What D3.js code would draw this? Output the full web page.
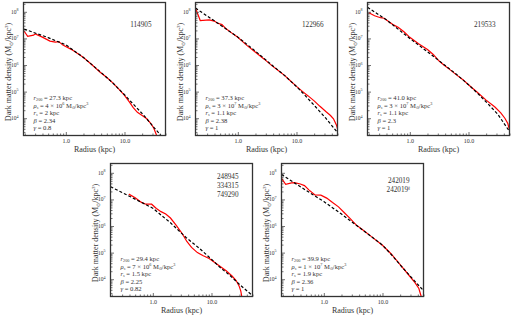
<!DOCTYPE html>
<html>
<head>
<meta charset="utf-8">
<script src="https://cdn.jsdelivr.net/npm/d3@7"></script>
<style>
body { margin: 0; background: #fff; }
svg { display: block; }
text { font-family: "Liberation Serif", serif; fill: #333; }
</style>
</head>
<body>
<div id="chart"></div>
<script>
// halo ids shown top right of each panel
const haloIds = [["114905"], ["122966"], ["219533"], ["248945", "334315", "749290"], ["242019", "242019"]];
const haloPrime = [false, false, false, false, true];

// fit parameters per panel
const r200 = ["27.3", "37.3", "41.0", "29.4", "39.9"];
const rhoMant = ["4", "3", "3", "7", "1"];
const rhoExp = ["6", "7", "7", "6", "7"];
const rScale = ["2", "1.1", "1.1", "1.5", "1.9"];
const betas = ["2.34", "2.38", "2.3", "2.25", "2.36"];
const gammas = ["0.8", "1", "1", "0.82", "1"];

// dashed fit profile (kpc, Msun/kpc^3)
const fitR = [
  [0.195, 0.50, 1.0, 2.0, 3.8, 6.3, 10, 14.1, 20.9, 31.6, 43.7],
  [0.19, 0.398, 1.0, 2.0, 3.8, 6.31, 10, 14.1, 20.9, 31.6, 50.1],
  [0.19, 0.398, 1.0, 2.0, 3.8, 6.31, 10, 14.1, 20.9, 31.6, 50.1],
  [0.19, 0.398, 1.0, 2.0, 3.72, 6.31, 10, 14.1, 20.9, 31.6, 50.1],
  [0.19, 0.398, 1.0, 2.0, 3.77, 6.31, 10, 14.1, 20.7, 31.6, 50.1]
];
const fitRho = [
  [2.24e7, 1.07e7, 5.75e6, 1.91e6, 5.75e5, 2.14e5, 7.6e4, 3.39e4, 1.35e4, 4.57e3, 2.0e3],
  [1.38e8, 4.57e7, 1.12e7, 3.31e6, 1.0e6, 3.98e5, 1.55e5, 7.08e4, 2.75e4, 1.0e4, 2.88e3],
  [1.48e8, 5.0e7, 1.0e7, 3.16e6, 1.05e6, 4.37e5, 1.82e5, 8.9e4, 3.72e4, 1.41e4, 3.16e3],
  [3.0e7, 1.32e7, 4.68e6, 1.32e6, 3.63e5, 1.41e5, 5.6e4, 2.75e4, 1.35e4, 5.75e3, 2.4e3],
  [8.7e7, 3.0e7, 8.3e6, 2.82e6, 9.8e5, 4.17e5, 1.91e5, 8.5e4, 3.16e4, 1.12e4, 3.7e3]
];

// red simulated profile
const simR = [
  [0.195, 0.224, 0.282, 0.302, 0.398, 0.537, 0.661, 0.759, 0.891, 1.26, 2.0, 2.82, 3.8, 5.01, 6.31, 7.94, 10, 12.0, 14.1, 16.6, 20.0, 24.0, 28.2, 31.6, 35.5, 37.2],
  [0.19, 0.229, 0.324, 0.398, 0.447, 0.537, 0.631, 0.794, 1.0, 1.41, 2.0, 2.82, 3.8, 5.01, 6.31, 7.94, 10, 12.6, 15.8, 20, 25.1, 31.6, 38, 42.7, 47.9, 50.1],
  [0.2, 0.251, 0.316, 0.363, 0.447, 0.537, 0.631, 0.794, 1.0, 1.41, 2.0, 2.51, 3.16, 3.8, 5.01, 6.31, 7.94, 10, 14.1, 20, 28.2, 35.5, 41.7, 46.8, 50.1],
  [0.389, 0.501, 0.631, 0.759, 0.955, 1.15, 1.38, 1.66, 2.0, 2.51, 3.16, 3.8, 4.57, 5.75, 7.24, 9.12, 11.2, 14.1, 17.8, 22.4, 26.3, 29.5, 31.6, 33.1],
  [0.19, 0.224, 0.282, 0.316, 0.398, 0.468, 0.562, 0.708, 0.891, 1.12, 1.41, 1.78, 2.24, 2.82, 3.55, 4.47, 6.31, 10, 14.1, 20, 28.2, 35.5, 41.7, 45.7]
];
const simRho = [
  [1.86e7, 1.2e7, 1.32e7, 1.48e7, 1.12e7, 7.9e6, 7.2e6, 7.6e6, 5.6e6, 3.8e6, 1.9e6, 1.0e6, 5.5e5, 3.4e5, 2.14e5, 1.26e5, 7.2e4, 4.2e4, 2.5e4, 1.66e4, 1.26e4, 9.5e3, 6.3e3, 4.2e3, 2.2e3, 1.6e3],
  [1.38e8, 4.68e7, 5.0e7, 4.47e7, 3.8e7, 3.31e7, 2.29e7, 1.58e7, 1.1e7, 5.6e6, 3.0e6, 1.66e6, 9.5e5, 6.0e5, 4.0e5, 2.5e5, 1.58e5, 1.02e5, 6.9e4, 4.5e4, 2.8e4, 1.78e4, 1.26e4, 9.5e3, 5.6e3, 4.0e3],
  [9.3e7, 7.1e7, 6.0e7, 5.75e7, 4.17e7, 3.16e7, 2.63e7, 1.78e7, 1.1e7, 6.3e6, 3.8e6, 2.5e6, 1.41e6, 1.0e6, 6.3e5, 4.17e5, 2.88e5, 1.82e5, 9.5e4, 4.8e4, 2.63e4, 1.58e4, 1.0e4, 6.3e3, 3.55e3],
  [1.58e7, 1.15e7, 7.9e6, 6.6e6, 6.6e6, 4.57e6, 3.47e6, 2.82e6, 2.0e6, 1.05e6, 5.25e5, 2.63e5, 1.58e5, 1.0e5, 7.6e4, 6.0e4, 4.37e4, 3.0e4, 2.09e4, 1.32e4, 8.9e3, 5.6e3, 3.55e3, 2.0e3],
  [6.2e7, 3.7e7, 4.17e7, 4.27e7, 3.8e7, 3.3e7, 2.24e7, 1.48e7, 1.45e7, 1.12e7, 7.6e6, 5.25e6, 3.16e6, 1.9e6, 1.1e6, 7.6e5, 4.17e5, 1.9e5, 8.9e4, 3.55e4, 1.41e4, 7.6e3, 4.47e3, 2.24e3]
];

// axis ranges and ticks
const xDomain = [0.19, 50];
const yDomain = [2240, 2.24e8];
const xTickVals = [1, 10];
const xTickLabels = ["1.0", "10.0"];
const yTickExps = [4, 5, 6, 7, 8];

const W = 516, H = 318;
const pw = 142, ph = 133;
// top-left corner of each panel box
const origins = [[23.5, 2.5], [195.5, 2.5], [367.5, 2.5], [110.5, 163.5], [281.5, 163.5]];

const svg = d3.select("#chart").append("svg")
    .attr("width", W)
    .attr("height", H);

const x = d3.scaleLog().domain(xDomain).range([0, pw]);
const y = d3.scaleLog().domain(yDomain).range([ph, 0]);

// minor tick positions for the log axes
let xMinor = [], yMinor = [];
for (let e = -1; e <= 1; e++) {
  for (let m = 1; m <= 9; m++) {
    const v = m * Math.pow(10, e);
    if (v >= xDomain[0] && v <= xDomain[1] && xTickVals.indexOf(v) === -1) xMinor.push(v);
  }
}
for (let e = 3; e <= 8; e++) {
  for (let m = 2; m <= 9; m++) {
    const v = m * Math.pow(10, e);
    if (v >= yDomain[0] && v <= yDomain[1]) yMinor.push(v);
  }
}

const line = d3.line()
    .x(d => x(d[0]))
    .y(d => y(d[1]));

origins.forEach(function(o, i) {
  const g = svg.append("g").attr("transform", `translate(${o[0]},${o[1]})`);

  g.append("clipPath").attr("id", "clip" + i)
    .append("rect").attr("width", pw).attr("height", ph);

  const plot = g.append("g").attr("clip-path", `url(#clip${i})`);

  plot.append("path")
      .attr("d", line(simR[i].map((r, k) => [r, simRho[i][k]])))
      .attr("fill", "none")
      .attr("stroke", "#ff0000")
      .attr("stroke-width", 1.2);

  plot.append("path")
      .attr("d", line(fitR[i].map((r, k) => [r, fitRho[i][k]])))
      .attr("fill", "none")
      .attr("stroke", "#000")
      .attr("stroke-width", 1.2)
      .attr("stroke-dasharray", "3,2");

  // axes with inward ticks
  const xAx = g.append("g").attr("transform", `translate(0,${ph})`);
  xAx.call(d3.axisBottom(x).tickValues(xTickVals).tickSizeInner(-3.5).tickSizeOuter(0)
      .tickFormat((d, k) => xTickLabels[k]).tickPadding(3.5));
  xAx.append("g").call(d3.axisBottom(x).tickValues(xMinor).tickSizeInner(-2).tickSizeOuter(0).tickFormat(""));

  const yAx = g.append("g");
  yAx.call(d3.axisLeft(y).tickValues(yTickExps.map(e => Math.pow(10, e))).tickSizeInner(-3.5).tickSizeOuter(0)
      .tickFormat("").tickPadding(2));
  yAx.append("g").call(d3.axisLeft(y).tickValues(yMinor).tickSizeInner(-2).tickSizeOuter(0).tickFormat(""));

  g.selectAll(".domain").remove();
  g.selectAll(".tick line").attr("stroke", "#333").attr("stroke-width", 0.7);
  xAx.selectAll("text").attr("font-size", 6).attr("font-family", "Liberation Serif").attr("fill", "#333");

  // y tick labels written as 10 with superscript exponent
  yTickExps.forEach(function(e) {
    const t = g.append("text")
        .attr("x", -5)
        .attr("y", y(Math.pow(10, e)) + 2)
        .attr("text-anchor", "end")
        .attr("font-size", 5.5)
        .text("10");
    t.append("tspan").attr("dy", -2.5).attr("font-size", 4).text(e);
  });

  g.append("rect")
      .attr("width", pw).attr("height", ph)
      .attr("fill", "none")
      .attr("stroke", "#333")
      .attr("stroke-width", 1.3);

  g.append("text")
      .attr("x", pw / 2)
      .attr("y", ph + 16)
      .attr("text-anchor", "middle")
      .attr("font-size", 8)
      .text("Radius (kpc)");

  const yl = g.append("text")
      .attr("transform", `translate(-12.5,${ph / 2 + 3}) rotate(-90)`)
      .attr("text-anchor", "middle")
      .attr("font-size", 8)
      .text("Dark matter density (M");
  yl.append("tspan").attr("font-size", 5).attr("dy", 1.5).text("⊙");
  yl.append("tspan").attr("dy", -1.5).text("/kpc");
  yl.append("tspan").attr("font-size", 5).attr("dy", -3).text("3");
  yl.append("tspan").attr("dy", 3).text(")");

  // halo id in the top right
  const ids = haloIds[i];
  const idTop = 24 - (ids.length - 1) * 4.5;
  ids.forEach(function(s, k) {
    const t = g.append("text")
        .attr("x", 128)
        .attr("y", idTop + k * 9)
        .attr("text-anchor", "end")
        .attr("font-size", 7.2)
        .text(s);
    if (haloPrime[i] && k === ids.length - 1) {
      t.attr("x", 129);
      t.append("tspan").attr("dy", -2.5).attr("font-size", 5).text("ℓ");
    }
  });

  // fit parameter block in the bottom left
  const lx = 10, ly = 97.5, dl = 7.5, fs = 6.6;
  let t = g.append("text").attr("x", lx).attr("y", ly).attr("font-size", fs);
  t.append("tspan").attr("font-style", "italic").text("r");
  t.append("tspan").attr("font-size", 4.2).attr("dy", 1.3).text("200");
  t.append("tspan").attr("dy", -1.3).text(` = ${r200[i]} kpc`);

  t = g.append("text").attr("x", lx).attr("y", ly + dl).attr("font-size", fs);
  t.append("tspan").attr("font-style", "italic").text("ρ");
  t.append("tspan").attr("font-size", 4.2).attr("font-style", "italic").attr("dy", 1.3).text("s");
  t.append("tspan").attr("dy", -1.3).text(` = ${rhoMant[i]} × 10`);
  t.append("tspan").attr("font-size", 4.2).attr("dy", -2.5).text(rhoExp[i]);
  t.append("tspan").attr("dy", 2.5).text(" M");
  t.append("tspan").attr("font-size", 4.2).attr("dy", 1.3).text("⊙");
  t.append("tspan").attr("dy", -1.3).text("/kpc");
  t.append("tspan").attr("font-size", 4.2).attr("dy", -2.5).text("3");

  t = g.append("text").attr("x", lx).attr("y", ly + 2 * dl).attr("font-size", fs);
  t.append("tspan").attr("font-style", "italic").text("r");
  t.append("tspan").attr("font-size", 4.2).attr("font-style", "italic").attr("dy", 1.3).text("s");
  t.append("tspan").attr("dy", -1.3).text(` = ${rScale[i]} kpc`);

  t = g.append("text").attr("x", lx).attr("y", ly + 3 * dl).attr("font-size", fs);
  t.append("tspan").attr("font-style", "italic").text("β");
  t.append("tspan").text(` = ${betas[i]}`);

  t = g.append("text").attr("x", lx).attr("y", ly + 4 * dl).attr("font-size", fs);
  t.append("tspan").attr("font-style", "italic").text("γ");
  t.append("tspan").text(` = ${gammas[i]}`);
});
</script>
</body>
</html>
